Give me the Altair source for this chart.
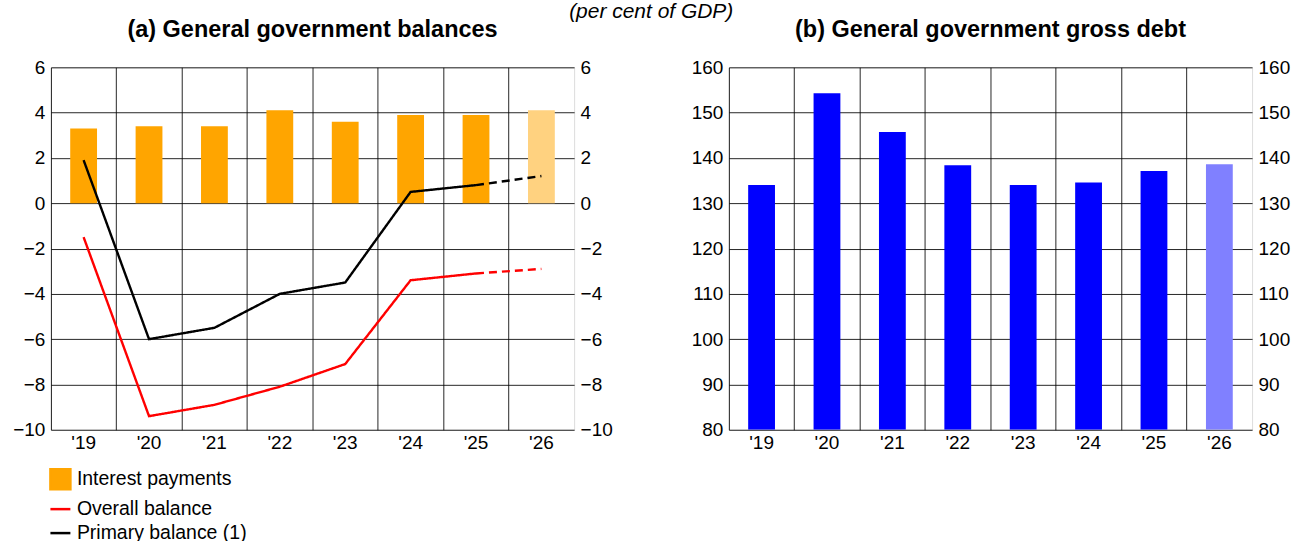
import altair as alt
import pandas as pd

FONT = "Liberation Sans"

# Years on the horizontal axis; the last one is a projection
years = ["'19", "'20", "'21", "'22", "'23", "'24", "'25", "'26"]
projected = [False, False, False, False, False, False, False, True]

# (a) balances, per cent of GDP
interest = [3.3, 3.4, 3.4, 4.1, 3.6, 3.9, 3.9, 4.1]
overall = [-1.5, -9.4, -8.9, -8.1, -7.1, -3.4, -3.1, -2.9]
primary = [1.9, -6.0, -5.5, -4.0, -3.5, 0.5, 0.8, 1.2]

# (b) gross debt, per cent of GDP
debt = [134.0, 154.3, 145.7, 138.4, 134.0, 134.6, 137.1, 138.6]

legend_names = ["Interest payments", "Overall balance", "Primary balance (1)"]
legend_colors = ["#FFA500", "#FF0000", "#000000"]

W, H = 524, 363

df_a = pd.DataFrame({"year": years, "interest": interest, "projected": projected})
df_b = pd.DataFrame({"year": years, "debt": debt, "projected": projected})

# Lines: solid through the last outturn, dashed from there into the projection
last_actual = max(i for i, p in enumerate(projected) if not p)
rows = []
for name, values in [(legend_names[1], overall), (legend_names[2], primary)]:
    for i, (yr, v) in enumerate(zip(years, values)):
        if i <= last_actual:
            rows.append({"series": name, "year": yr, "value": v, "segment": "actual"})
        if i >= last_actual:
            rows.append({"series": name, "year": yr, "value": v, "segment": "projection"})
df_lines = pd.DataFrame(rows)
df_legend = pd.DataFrame({"series": legend_names})

axis_common = dict(
    labelFont=FONT, labelFontSize=19, labelColor="black",
    ticks=False, domain=False, gridColor="black", gridWidth=1, gridOpacity=0.85,
)


def x_enc():
    # grid lines sit on the band edges, labels stay centred under each band
    return alt.X(
        "year:N", sort=years, title=None,
        scale=alt.Scale(paddingInner=0, paddingOuter=0),
        axis=alt.Axis(bandPosition=0, grid=True, labelPadding=4, labelAngle=0,
                      **axis_common),
    )


def y_axis(orient, values, grid):
    return alt.Axis(orient=orient, values=values, grid=grid, labelPadding=6,
                    labelExpr="replace(datum.label, '-', '\u2212')", **axis_common)


bar_width = alt.RelativeBandSize(0.41)

# ---- panel (a)
ticks_a = list(range(-10, 7, 2))
scale_a = alt.Scale(domain=[-10, 6])

bars_a = alt.Chart(df_a).mark_bar(width=bar_width).encode(
    x=x_enc(),
    y=alt.Y("interest:Q", scale=scale_a, title=None, axis=y_axis("left", ticks_a, True)),
    color=alt.condition("datum.projected", alt.value("#FFD280"), alt.value("#FFA500")),
)

lines_a = alt.Chart(df_lines).mark_line(strokeWidth=2.4).encode(
    x=x_enc(),
    y=alt.Y("value:Q", scale=scale_a, title=None, axis=y_axis("right", ticks_a, False)),
    color=alt.Color("series:N", legend=None,
                    scale=alt.Scale(domain=legend_names[1:], range=["#FF0000", "#000000"])),
    strokeDash=alt.StrokeDash("segment:N", legend=None,
                              scale=alt.Scale(domain=["actual", "projection"],
                                              range=[[1, 0], [8, 5]])),
    order=alt.Order("year:N"),
)

# Legend-only layer: the explicit scale domains carry the entries, no marks are drawn
legend_layer = alt.Chart(df_legend).transform_filter("false").mark_point(
    filled=True, opacity=1
).encode(
    x=alt.value(0),
    y=alt.value(0),
    fill=alt.Fill("series:N", scale=alt.Scale(domain=legend_names, range=legend_colors),
                  legend=alt.Legend(title=None, orient="none", legendX=-2, legendY=401,
                                    labelFont=FONT, labelFontSize=19.5, labelColor="black",
                                    labelOffset=5, rowPadding=3, padding=0,
                                    symbolSize=400, symbolStrokeWidth=2.5,
                                    symbolOpacity=1, labelLimit=400)),
    stroke=alt.Stroke("series:N", scale=alt.Scale(domain=legend_names, range=legend_colors)),
    shape=alt.Shape("series:N", scale=alt.Scale(domain=legend_names,
                                                range=["square", "stroke", "stroke"])),
)


def panel_title(text):
    return alt.TitleParams(text, font=FONT, fontSize=23.5, fontWeight="bold",
                           anchor="middle", offset=17, color="black")


panel_a = alt.layer(bars_a, lines_a, legend_layer).resolve_axis(y="independent").properties(
    width=W, height=H, title=panel_title("(a) General government balances"),
)

# ---- panel (b)
ticks_b = list(range(80, 161, 10))
scale_b = alt.Scale(domain=[80, 160], clamp=True)

bars_b = alt.Chart(df_b).mark_bar(width=bar_width, clip=True).encode(
    x=x_enc(),
    y=alt.Y("debt:Q", scale=scale_b, title=None, axis=y_axis("left", ticks_b, True)),
    color=alt.condition("datum.projected", alt.value("#8080FF"), alt.value("#0000FF")),
)
right_b = alt.Chart(df_b).mark_bar(width=bar_width, opacity=0, clip=True).encode(
    x=x_enc(),
    y=alt.Y("debt:Q", scale=scale_b, title=None, axis=y_axis("right", ticks_b, False)),
)

panel_b = alt.layer(bars_b, right_b).resolve_axis(y="independent").properties(
    width=W, height=H, title=panel_title("(b) General government gross debt"),
)

chart = alt.hconcat(panel_a, panel_b, spacing=155, bounds="flush").properties(
    title=alt.TitleParams("(per cent of GDP)", font=FONT, fontSize=21, fontStyle="italic",
                          fontWeight="normal", anchor="middle", offset=-4.5,
                          color="black"),
    padding={"left": 12, "top": 0, "right": 5, "bottom": 0},
).configure_view(stroke="black", strokeWidth=1.5).configure(background="white")

chart.save("out.html", embed_options={"renderer": "svg", "actions": False})
